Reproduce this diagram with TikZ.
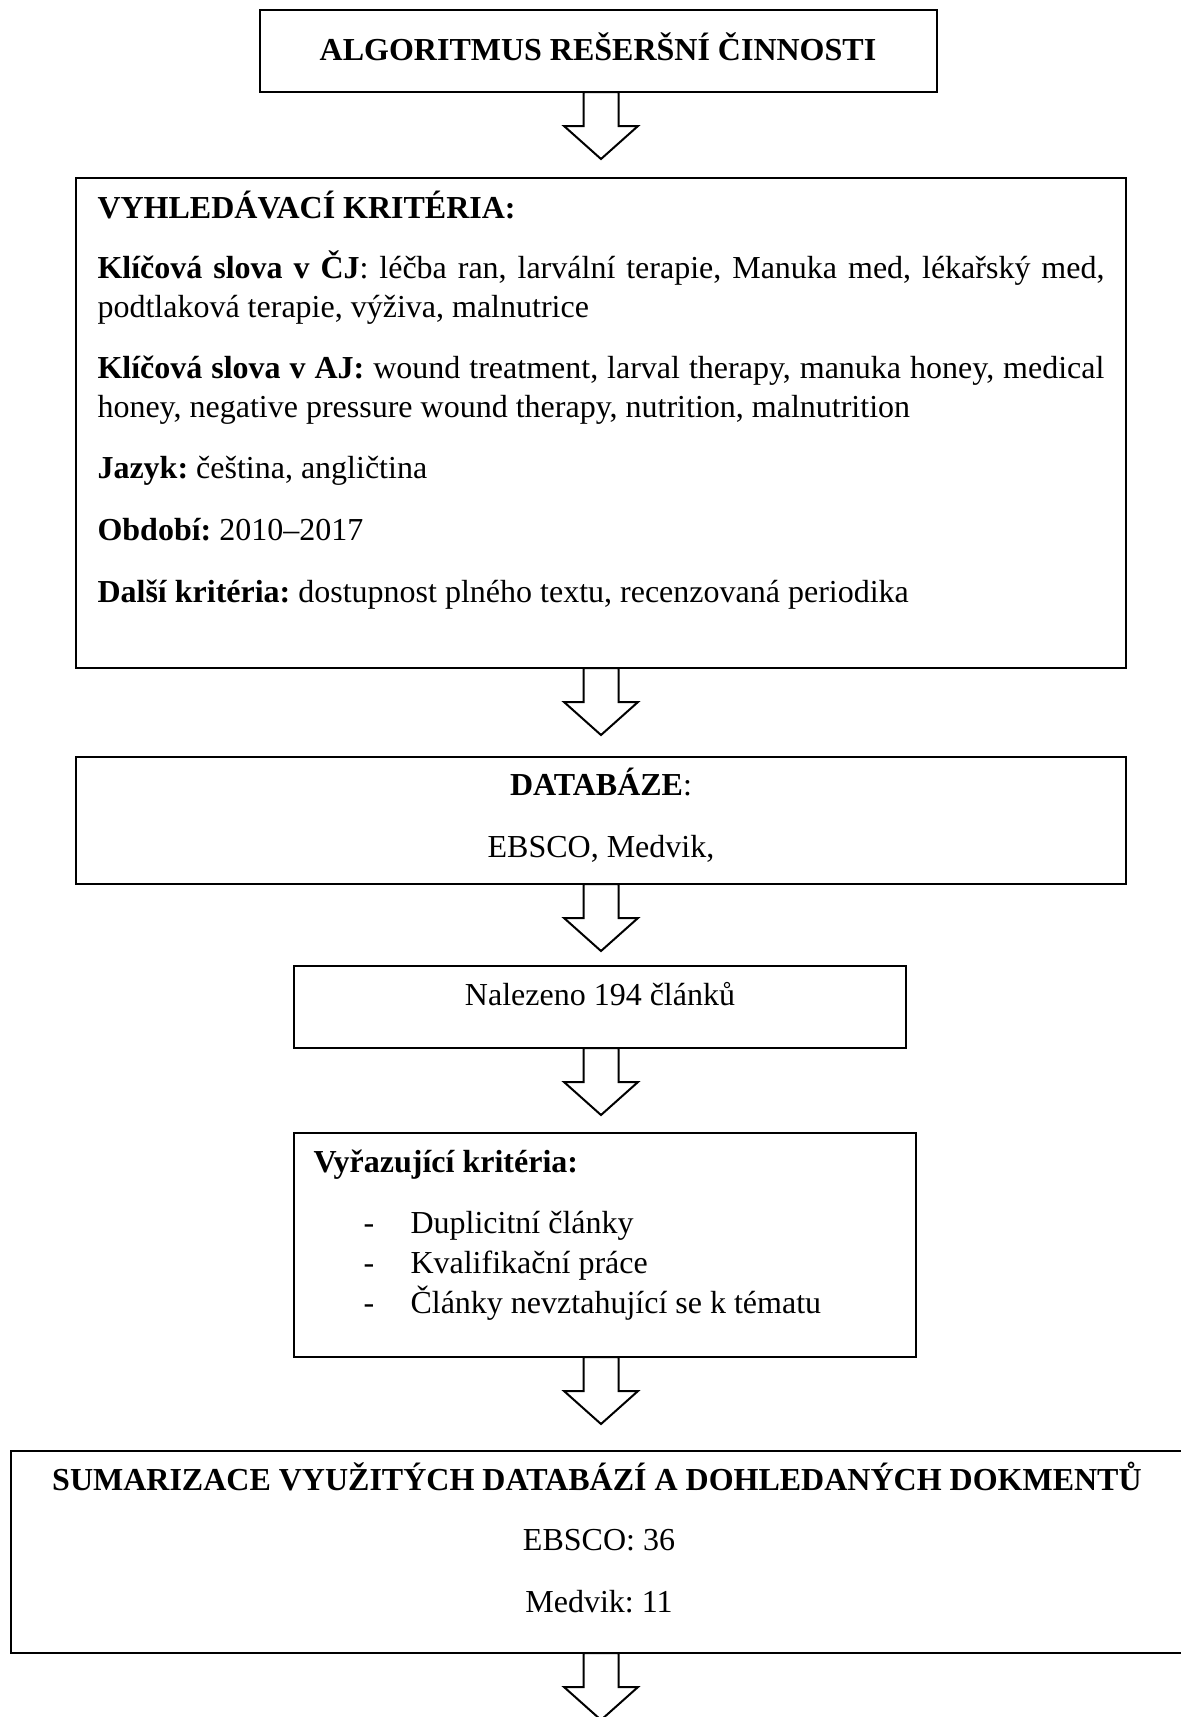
\documentclass[tikz,border=0pt]{standalone}
\usepackage{fontspec}
\setmainfont{Liberation Serif}
\usetikzlibrary{calc}
\frenchspacing
\newcommand\mkbox[5]{\node[box, minimum width={(#4-#2)*0.375pt}, minimum height={(#5-#3)*0.375pt}] (#1) at ({(#2+#4)/2},{(#3+#5)/2}) {};}
\newcommand\flowarrow[1]{\draw[arr] ($(#1.south -| ax)+(-17.5,0)$) -- ++(0,34) -- ++(-19.5,0) -- ++(37,33) -- ++(37,-33) -- ++(-19.5,0) -- ++(0,-34) -- cycle;}
\begin{document}
\frenchspacing
\begin{tikzpicture}[x=0.375pt,y=-0.375pt,
  box/.style={draw, line width=0.75pt, inner sep=0pt, outer sep=0pt},
  arr/.style={draw, fill=white, line width=0.75pt, line join=miter},
  tl/.style={inner sep=0pt, anchor=base west, font=\fontsize{12pt}{14.8pt}\selectfont},
  tc/.style={inner sep=0pt, anchor=base, font=\fontsize{12pt}{14.8pt}\selectfont}]
\useasboundingbox (0,0) rectangle (1180,1717);
\coordinate (ax) at (601,0);
% boxes
\mkbox{b1}{260}{10}{937}{92}
\mkbox{b2}{76}{178}{1126}{668}
\mkbox{b3}{76}{757}{1126}{884}
\mkbox{b4}{294}{966}{906}{1048}
\mkbox{b5}{294}{1133}{916}{1357}
\mkbox{b6}{11}{1451}{1195}{1653}
% arrows
\flowarrow{b1}
\flowarrow{b2}
\flowarrow{b3}
\flowarrow{b4}
\flowarrow{b5}
\flowarrow{b6}
% texts
\node[tc] (t1) at (598,60) {\textbf{ALGORITMUS REŠERŠNÍ ČINNOSTI}};
\node[tl] (t2) at (97,218) {\textbf{VYHLEDÁVACÍ KRITÉRIA:}};
\node[tl] (t3) at (97,278) {\makebox[377.6pt][s]{\textbf{Klíčová slova v ČJ}: léčba ran, larvální terapie, Manuka med, lékařský med,}};
\node[tl] (t4) at (97,317) {podtlaková terapie, výživa, malnutrice};
\node[tl] (t5) at (97,378) {\makebox[377.6pt][s]{\textbf{Klíčová slova v AJ:} wound treatment, larval therapy, manuka honey, medical}};
\node[tl] (t6) at (97,417) {honey, negative pressure wound therapy, nutrition, malnutrition};
\node[tl] (t7) at (97,478) {\textbf{Jazyk:} čeština, angličtina};
\node[tl] (t8) at (97,540) {\textbf{Období:} 2010–2017};
\node[tl] (t9) at (97,602) {\textbf{Další kritéria:} dostupnost plného textu, recenzovaná periodika};
\node[tc] (t10) at (601,795) {\textbf{DATABÁZE}:};
\node[tc] (t11) at (601,857) {EBSCO, Medvik,};
\node[tc] (t12) at (600,1005) {Nalezeno 194 článků};
\node[tl] (t13) at (313,1172) {\textbf{Vyřazující kritéria:}};
\node[tl] (d1) at (363,1233) {-};
\node[tl] (d2) at (363,1273) {-};
\node[tl] (d3) at (363,1313) {-};
\node[tl] (t14) at (410,1233) {Duplicitní články};
\node[tl] (t15) at (410,1273) {Kvalifikační práce};
\node[tl] (t16) at (410,1313) {Články nevztahující se k tématu};
\node[tc] (t17) at (597,1490) {\textbf{SUMARIZACE VYUŽITÝCH DATABÁZÍ A DOHLEDANÝCH DOKMENTŮ}};
\node[tc] (t18) at (599,1550) {EBSCO: 36};
\node[tc] (t19) at (599,1612) {Medvik: 11};
\end{tikzpicture}
\end{document}
